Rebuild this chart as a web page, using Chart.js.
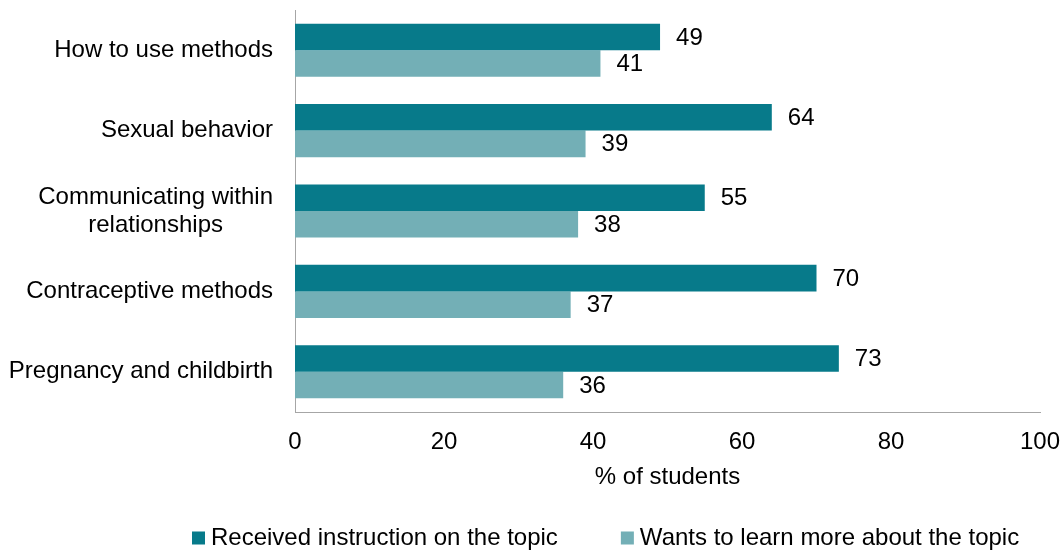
<!DOCTYPE html>
<html>
<head>
<meta charset="utf-8">
<script src="https://cdn.jsdelivr.net/npm/chart.js@4/dist/chart.umd.min.js"></script>
<style>
  html, body { margin: 0; padding: 0; background: #fff; }
  #wrap { width: 1064px; height: 550px; position: relative; }
</style>
</head>
<body>
<div id="wrap"><canvas id="topics"></canvas></div>
<script>
// topics, top to bottom
var topics = [
    'How to use methods',
    'Sexual behavior',
    ['Communicating within', 'relationships'],
    'Contraceptive methods',
    'Pregnancy and childbirth'
];
var received = [49, 64, 55, 70, 73];
var wantsMore = [41, 39, 38, 37, 36];
var seriesNames = ['Received instruction on the topic', 'Wants to learn more about the topic'];
var xTicks = [0, 20, 40, 60, 80, 100];

var FONT = "'Liberation Sans', Arial, sans-serif";
var AXIS_GREY = '#A6A6A6';

// value next to the end of each bar
var barValues = {
    id: 'barValues',
    afterDatasetsDraw: function(chart) {
        var ctx = chart.ctx;
        ctx.save();
        ctx.font = '24px ' + FONT;
        ctx.fillStyle = '#000';
        ctx.textAlign = 'left';
        ctx.textBaseline = 'middle';
        chart.data.datasets.forEach(function(ds, i) {
            chart.getDatasetMeta(i).data.forEach(function(bar, j) {
                ctx.fillText(ds.data[j], bar.x + 16, bar.y + 1);
            });
        });
        ctx.restore();
    }
};

// category names: right edge on the axis, lines of a label centred on each other
var topicLabels = {
    id: 'topicLabels',
    afterDraw: function(chart) {
        var ctx = chart.ctx;
        var y = chart.scales.y;
        var right = chart.chartArea.left - 22;
        var lineH = 28;
        ctx.save();
        ctx.font = '24px ' + FONT;
        ctx.fillStyle = '#000';
        ctx.textAlign = 'center';
        ctx.textBaseline = 'middle';
        topics.forEach(function(t, i) {
            var lines = Array.isArray(t) ? t : [t];
            var w = Math.max.apply(null, lines.map(function(l) { return ctx.measureText(l).width; }));
            var cy = y.getPixelForValue(i) - (lines.length - 1) * lineH / 2;
            lines.forEach(function(l, k) {
                ctx.fillText(l, right - w / 2, cy + k * lineH);
            });
        });
        ctx.restore();
    }
};

// legend row along the bottom
var bottomLegend = {
    id: 'bottomLegend',
    afterDraw: function(chart) {
        var ctx = chart.ctx;
        var x = 192, y = 538, box = 13;
        ctx.save();
        ctx.font = '24px ' + FONT;
        ctx.textAlign = 'left';
        ctx.textBaseline = 'middle';
        chart.data.datasets.forEach(function(ds) {
            ctx.fillStyle = ds.backgroundColor;
            ctx.fillRect(x, y - box / 2, box, box);
            ctx.fillStyle = '#000';
            ctx.fillText(ds.label, x + box + 6, y);
            x += box + 6 + ctx.measureText(ds.label).width + 63;
        });
        ctx.restore();
    }
};

var chart = new Chart(document.getElementById('topics'), {
    type: 'bar',
    data: {
        labels: topics,
        datasets: [{
            label: seriesNames[0],
            data: received,
            backgroundColor: '#077A8A'
        }, {
            label: seriesNames[1],
            data: wantsMore,
            backgroundColor: '#73AFB6'
        }]
    },
    options: {
        indexAxis: 'y',
        responsive: true,
        maintainAspectRatio: false,
        animation: false,
        datasets: {
            bar: {
                categoryPercentage: 0.66,
                barPercentage: 1.0
            }
        },
        layout: {
            padding: { top: 10, right: 24, left: 0, bottom: 0 }
        },
        plugins: {
            legend: { display: false },
            tooltip: { enabled: false }
        },
        scales: {
            x: {
                min: 0,
                max: 100,
                afterFit: function(scale) {
                    scale.height = 138;
                    scale.paddingLeft = 0;
                    scale.paddingRight = 0;
                },
                afterBuildTicks: function(scale) {
                    scale.ticks = xTicks.map(function(v) { return { value: v }; });
                },
                grid: { display: false, drawTicks: false },
                border: { display: true, color: AXIS_GREY, width: 1 },
                ticks: {
                    padding: 16,
                    color: '#000',
                    font: { family: FONT, size: 24 }
                },
                title: {
                    display: true,
                    text: '% of students',
                    color: '#000',
                    font: { family: FONT, size: 24 },
                    padding: { top: 0, bottom: 58 }
                }
            },
            y: {
                afterFit: function(scale) { scale.width = 295; },
                grid: { display: false, drawTicks: false },
                border: { display: true, color: AXIS_GREY, width: 1 },
                ticks: { display: false }
            }
        }
    },
    plugins: [barValues, topicLabels, bottomLegend]
});
</script>
</body>
</html>
